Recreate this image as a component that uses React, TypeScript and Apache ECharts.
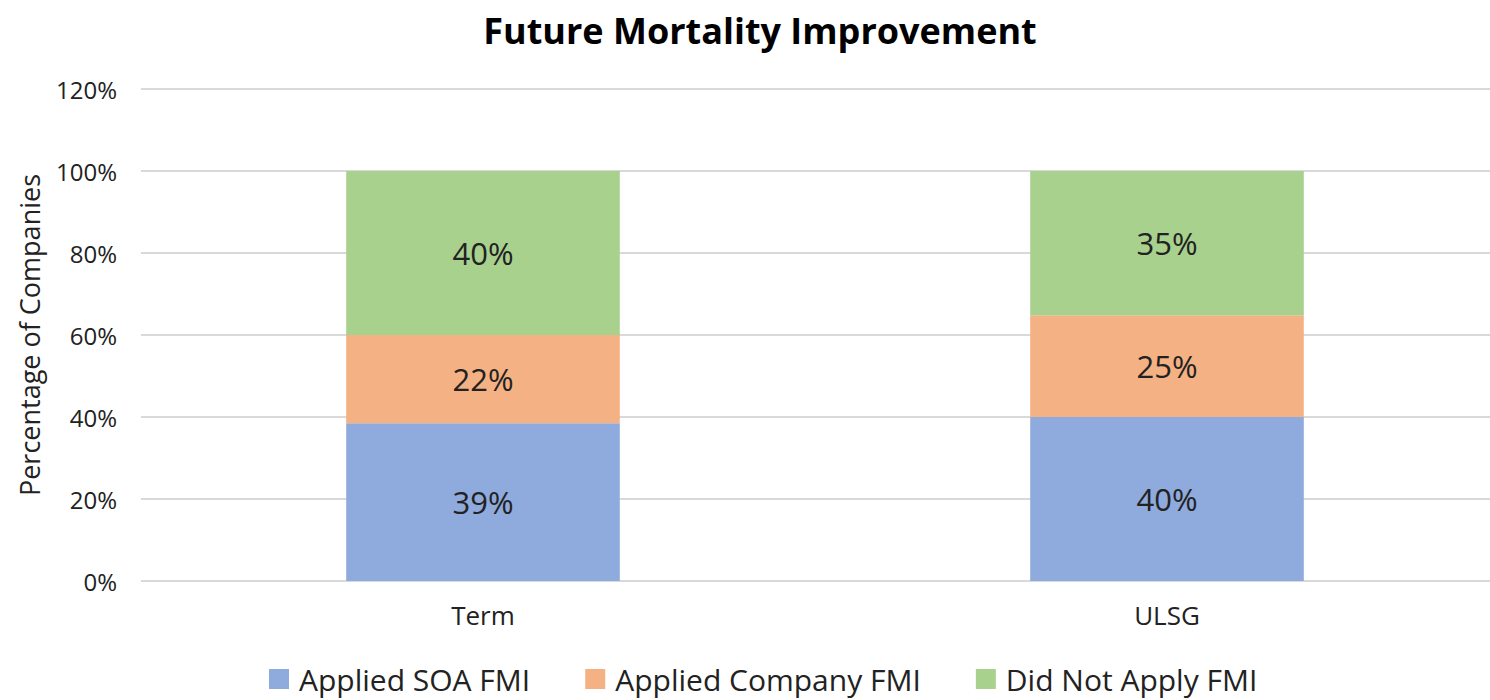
import React, { useEffect, useRef } from "react";
import * as echarts from "echarts";

const categories = ["Term", "ULSG"];
const seriesNames = ["Applied SOA FMI", "Applied Company FMI", "Did Not Apply FMI"];
const soaValues = [38.5, 40];
const companyValues = [21.5, 24.8];
const notApplyValues = [40, 35.2];
const yTicks = { min: 0, max: 120, step: 20 };
const colors = ["#8faadc", "#f4b183", "#a9d18e"];

const FONT = "'Open Sans', 'Noto Sans', sans-serif";

export default function App() {
  const ref = useRef<HTMLDivElement>(null);
  useEffect(() => {
    document.body.style.margin = "0";
    const chart = echarts.init(ref.current!, undefined, { renderer: "svg" });
    const data = [soaValues, companyValues, notApplyValues];
    chart.setOption({
      animation: false,
      backgroundColor: "#ffffff",
      title: {
        text: "Future Mortality Improvement",
        left: 755,
        textAlign: "center",
        top: 7,
        textStyle: { fontFamily: FONT, fontWeight: "bold", fontSize: 36, color: "#000" },
      },
      grid: { left: 141, right: 0, top: 89, bottom: 119, containLabel: false },
      legend: {
        bottom: 1,
        left: 264,
        itemWidth: 20,
        itemHeight: 20,
        itemGap: 55,
        icon: "rect",
        textStyle: { fontFamily: FONT, fontSize: 30, color: "#222", padding: [0, 0, 0, 5] },
        data: seriesNames,
      },
      xAxis: {
        type: "category",
        data: categories,
        axisLine: { show: false },
        axisTick: { show: false },
        axisLabel: { fontFamily: FONT, fontSize: 26, color: "#222", margin: 21 },
      },
      yAxis: {
        type: "value",
        min: yTicks.min,
        max: yTicks.max,
        interval: yTicks.step,
        name: "Percentage of Companies",
        nameLocation: "middle",
        nameGap: 98,
        nameTextStyle: { fontFamily: FONT, fontSize: 27, color: "#222" },
        axisLabel: {
          formatter: "{value}%",
          fontFamily: FONT,
          fontSize: 24,
          color: "#222",
          margin: 24,
        },
        splitLine: { lineStyle: { color: "#d9d9d9", width: 2 } },
      },
      series: seriesNames.map((name, i) => ({
        name,
        type: "bar",
        stack: "total",
        barWidth: "40%",
        itemStyle: { color: colors[i] },
        data: data[i],
        label: {
          show: true,
          position: "inside",
          fontFamily: FONT,
          fontSize: 31,
          color: "#222",
          formatter: (p: any) => Math.round(p.value) + "%",
        },
      })),
    });
    return () => chart.dispose();
  }, []);
  return (
    <div style={{ width: 1490, height: 700, overflow: "hidden" }}>
      <div ref={ref} style={{ width: 1509, height: 700 }} />
    </div>
  );
}
